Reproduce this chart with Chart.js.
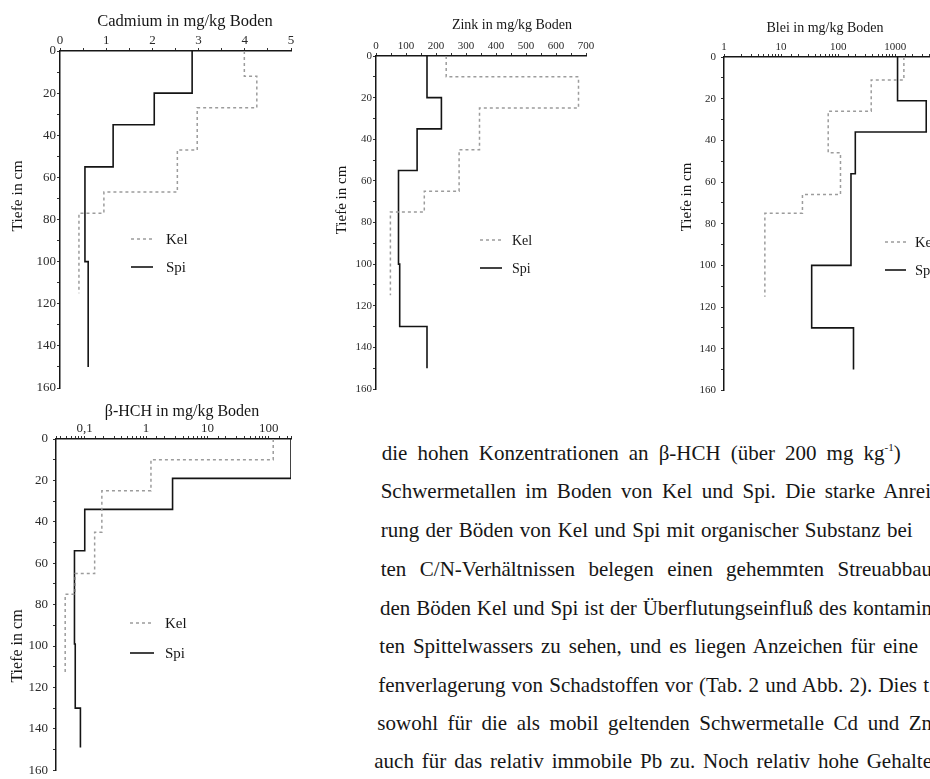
<!DOCTYPE html>
<html>
<head>
<meta charset="utf-8">
<script src="https://cdn.jsdelivr.net/npm/chart.js@4.4.1/dist/chart.umd.min.js"></script>
<style>
  html, body { margin: 0; padding: 0; background: #fff; overflow: hidden; }
  body { width: 930px; height: 779px; position: relative; font-family: "Liberation Serif", "Times New Roman", serif; }
  .plot { position: absolute; }
  .plot canvas { display: block; }
  .line { position: absolute; white-space: nowrap; font-size: 21px; line-height: 24px; color: #161616; }
  .line sup { font-size: 11px; vertical-align: 9px; line-height: 0; }
</style>
</head>
<body>
<div class="plot" style="left:0px;top:0px"><canvas id="cdChart" width="301" height="398"></canvas></div>
<div class="plot" style="left:311px;top:0px"><canvas id="znChart" width="285" height="399"></canvas></div>
<div class="plot" style="left:640px;top:0px"><canvas id="pbChart" width="326" height="402"></canvas></div>
<div class="plot" style="left:0px;top:390px"><canvas id="hchChart" width="301" height="393"></canvas></div>
<script>
// Soil profiles: depth = layer boundaries in cm, value = one concentration per layer (mg/kg)

// Cadmium
const cdKelDepth = [0, 12, 27, 47, 67, 77, 115];
const cdKelValue = [3.99, 4.26, 2.97, 2.54, 0.95, 0.41];
const cdSpiDepth = [0, 20, 35, 55, 100, 150];
const cdSpiValue = [2.86, 2.04, 1.15, 0.54, 0.61];

// Zink
const znKelDepth = [0, 10, 25, 45, 65, 75, 115];
const znKelValue = [234, 675, 345, 277, 161, 48];
const znSpiDepth = [0, 20, 35, 55, 100, 130, 150];
const znSpiValue = [170, 218, 137, 75, 79, 170];

// Blei
const pbKelDepth = [0, 11, 26, 46, 66, 75, 115];
const pbKelValue = [1420, 380, 67, 110, 23.7, 5.2];
const pbSpiDepth = [0, 21, 36, 56, 100, 130, 150];
const pbSpiValue = [1100, 3500, 200, 168, 34.4, 186];

// beta-HCH
const hchKelDepth = [0, 10, 25, 45, 65, 75, 114];
const hchKelValue = [118, 1.2, 0.19, 0.145, 0.07, 0.048];
const hchSpiDepth = [0, 19, 34, 54, 99, 130, 149];
const hchSpiValue = [230, 2.7, 0.1, 0.068, 0.07, 0.085];

// depth axis ticks (labelled every 20 cm)
const depthMax = 160;
const depthStep = 10;
const depthLabelEvery = 20;

const seriesNames = ["Kel", "Spi"];
const depthTitle = "Tiefe in cm";

// running text beside the last chart
const textLines = [
    "die hohen Konzentrationen an β-HCH (über 200 mg kg<sup>-1</sup>)",
    "Schwermetallen im Boden von Kel und Spi. Die starke Anrei",
    "rung der Böden von Kel und Spi mit organischer Substanz bei",
    "ten C/N-Verhältnissen belegen einen gehemmten Streuabbau",
    "den Böden Kel und Spi ist der Überflutungseinfluß des kontamin",
    "ten Spittelwassers zu sehen, und es liegen Anzeichen für eine",
    "fenverlagerung von Schadstoffen vor (Tab. 2 und Abb. 2). Dies t",
    "sowohl für die als mobil geltenden Schwermetalle Cd und Zn",
    "auch für das relativ immobile Pb zu. Noch relativ hohe Gehalte",
];

(function () {
    "use strict";

    const SERIF = '"Liberation Serif", "Times New Roman", serif';
    const INK = "#161616";

    // one point at the top and bottom of every layer -> step profile
    function stepPoints(depth, value) {
        const pts = [];
        value.forEach((v, i) => {
            pts.push({ x: v, y: depth[i] });
            pts.push({ x: v, y: depth[i + 1] });
        });
        return pts;
    }

    function decadeLabel(v) {
        const e = Math.round(Math.log10(v));
        if (Math.abs(Math.log10(v) - e) > 1e-6) return "";
        if (e < 0) return "0," + "0".repeat(-e - 1) + "1";
        return String(Math.pow(10, e));
    }

    // axis titles and the small legend inside the plot
    const paperLabels = {
        id: "paperLabels",
        afterDraw(chart, args, o) {
            const ctx = chart.ctx;
            ctx.save();
            ctx.fillStyle = INK;
            ctx.textAlign = "center";
            ctx.textBaseline = "middle";
            ctx.font = o.titleSize + "px " + SERIF;
            ctx.fillText(o.xTitle, o.xTitleAt[0], o.xTitleAt[1]);

            ctx.save();
            ctx.translate(o.yTitleAt[0], o.yTitleAt[1]);
            ctx.rotate(-Math.PI / 2);
            ctx.font = o.yTitleSize + "px " + SERIF;
            ctx.fillText(depthTitle, 0, 0);
            ctx.restore();

            ctx.font = o.legendSize + "px " + SERIF;
            ctx.textAlign = "left";
            chart.data.datasets.forEach((ds, i) => {
                const y = o.legendAt[1] + i * o.legendGap;
                ctx.beginPath();
                ctx.setLineDash(ds.borderDash || []);
                ctx.strokeStyle = ds.borderColor;
                ctx.lineWidth = ds.borderWidth;
                ctx.moveTo(o.legendAt[0], y);
                ctx.lineTo(o.legendAt[0] + o.sampleW, y);
                ctx.stroke();
                ctx.setLineDash([]);
                ctx.fillStyle = INK;
                ctx.fillText(ds.label, o.legendAt[0] + o.sampleW + o.textGap, y + 1);
            });
            ctx.restore();
        },
    };

    function profileChart(id, cfg) {
        return new Chart(document.getElementById(id), {
            type: "scatter",
            data: {
                datasets: [
                    {
                        label: seriesNames[0],
                        data: stepPoints(cfg.kelDepth, cfg.kelValue),
                        showLine: true,
                        borderColor: "#9c9c9c",
                        borderWidth: 1.5,
                        borderDash: [3, 3],
                        pointRadius: 0,
                    },
                    {
                        label: seriesNames[1],
                        data: stepPoints(cfg.spiDepth, cfg.spiValue),
                        showLine: true,
                        borderColor: "#141414",
                        borderWidth: 1.6,
                        pointRadius: 0,
                    },
                ],
            },
            options: {
                responsive: false,
                animation: false,
                events: [],
                layout: { padding: { left: 0, top: 0, right: 10, bottom: 10 } },
                plugins: {
                    legend: { display: false },
                    tooltip: { enabled: false },
                    paperLabels: cfg.labels,
                },
                scales: {
                    x: Object.assign(
                        {
                            position: "top",
                            afterFit: (s) => { s.height = cfg.xAxisH; },
                            grid: { drawOnChartArea: false, tickLength: 3, color: "#333" },
                            border: { color: INK, width: 1.5 },
                        },
                        cfg.x,
                        {
                            ticks: Object.assign(
                                {
                                    autoSkip: false,
                                    maxRotation: 0,
                                    padding: 0,
                                    color: "#2a2a2a",
                                    font: { family: SERIF, size: cfg.tickSize },
                                },
                                cfg.x.ticks
                            ),
                        }
                    ),
                    y: {
                        type: "linear",
                        min: 0,
                        max: depthMax,
                        reverse: true,
                        afterFit: (s) => { s.width = cfg.yAxisW; },
                        grid: { drawOnChartArea: false, tickLength: 3, color: "#333" },
                        border: { color: INK, width: 1.5 },
                        ticks: {
                            stepSize: depthStep,
                            autoSkip: false,
                            padding: cfg.yPad,
                            color: "#2a2a2a",
                            font: { family: SERIF, size: cfg.tickSize },
                            callback: (v) => (v % depthLabelEvery === 0 ? v : ""),
                        },
                    },
                },
            },
            plugins: [paperLabels],
        });
    }

    profileChart("cdChart", {
        kelDepth: cdKelDepth, kelValue: cdKelValue,
        spiDepth: cdSpiDepth, spiValue: cdSpiValue,
        xAxisH: 51, yAxisW: 60, tickSize: 13, yPad: 1,
        x: {
            type: "linear", min: 0, max: 5,
            ticks: { stepSize: 0.5, callback: (v) => (Number.isInteger(v) ? v : "") },
        },
        labels: {
            xTitle: "Cadmium in mg/kg Boden", xTitleAt: [185, 22], titleSize: 16.5,
            yTitleAt: [18, 196], yTitleSize: 15.5,
            legendAt: [131, 239], legendGap: 28, sampleW: 22, textGap: 13, legendSize: 15,
        },
    });

    profileChart("znChart", {
        kelDepth: znKelDepth, kelValue: znKelValue,
        spiDepth: znSpiDepth, spiValue: znSpiValue,
        xAxisH: 56, yAxisW: 65, tickSize: 11, yPad: 1,
        x: {
            type: "linear", min: 0, max: 700,
            ticks: { stepSize: 50, callback: (v) => (v % 100 === 0 ? v : "") },
        },
        labels: {
            xTitle: "Zink in mg/kg Boden", xTitleAt: [201, 25], titleSize: 14,
            yTitleAt: [31, 200], yTitleSize: 15,
            legendAt: [169, 240], legendGap: 28, sampleW: 22, textGap: 10, legendSize: 14,
        },
    });

    profileChart("pbChart", {
        kelDepth: pbKelDepth, kelValue: pbKelValue,
        spiDepth: pbSpiDepth, spiValue: pbSpiValue,
        xAxisH: 57, yAxisW: 84, tickSize: 11, yPad: 5,
        x: {
            type: "logarithmic", min: 1, max: 10000,
            ticks: { callback: decadeLabel },
        },
        labels: {
            xTitle: "Blei in mg/kg Boden", xTitleAt: [185, 28], titleSize: 14,
            yTitleAt: [47, 197], yTitleSize: 15,
            legendAt: [245, 242], legendGap: 28, sampleW: 21, textGap: 9, legendSize: 14.5,
        },
    });

    profileChart("hchChart", {
        kelDepth: hchKelDepth, kelValue: hchKelValue,
        spiDepth: hchSpiDepth, spiValue: hchSpiValue,
        xAxisH: 49, yAxisW: 56, tickSize: 13, yPad: 5,
        x: {
            type: "logarithmic", min: 0.034, max: 230,
            ticks: { callback: decadeLabel },
        },
        labels: {
            xTitle: "β-HCH in mg/kg Boden", xTitleAt: [182, 22], titleSize: 16,
            yTitleAt: [18, 256], yTitleSize: 16,
            legendAt: [130, 233], legendGap: 30, sampleW: 24, textGap: 11, legendSize: 15,
        },
    });

    // justified text lines, spread so each ends where the scan shows it
    const lineLeft = [381.7, 380.7, 380.7, 380.7, 380, 379.3, 378.3, 377.3, 374.3];
    const lineRight = [900.7, 931, 912.7, 932, 932, 918, 929, 932, 932];
    const lineMid = [455, 493, 532, 571, 610, 648, 687, 725, 763];

    textLines.forEach((t, i) => {
        const el = document.createElement("div");
        el.className = "line";
        el.innerHTML = t;
        el.style.left = lineLeft[i] + "px";
        el.style.top = (lineMid[i] - 14.4) + "px";
        document.body.appendChild(el);
        const w = el.getBoundingClientRect().width;
        const gaps = (el.textContent.match(/ /g) || []).length;
        if (gaps) el.style.wordSpacing = ((lineRight[i] - lineLeft[i] - w) / gaps) + "px";
    });
})();
</script>
</body>
</html>
